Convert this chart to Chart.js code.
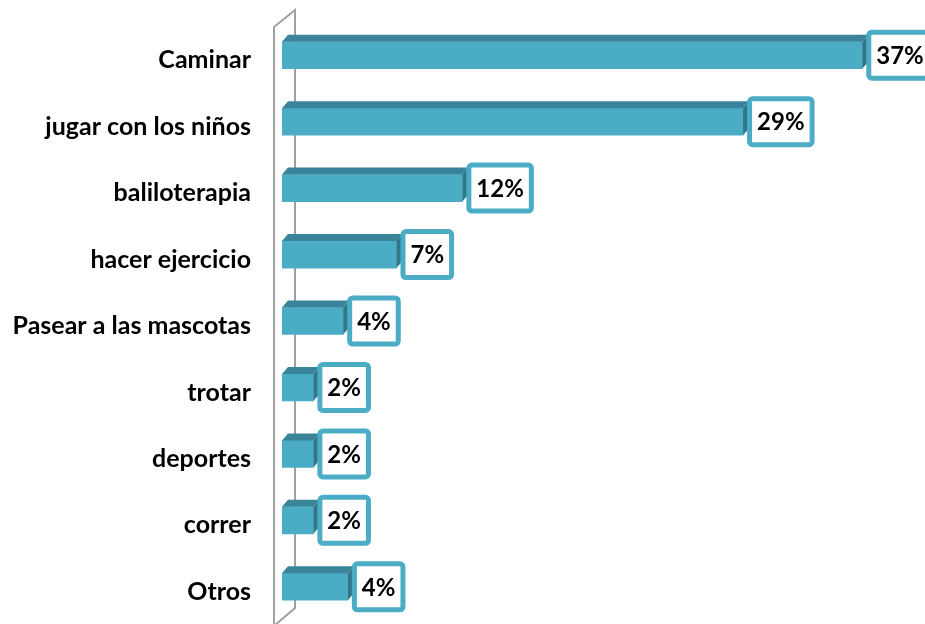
<!DOCTYPE html>
<html>
<head>
<meta charset="utf-8">
<script src="https://cdn.jsdelivr.net/npm/chart.js@4.4.1/dist/chart.umd.min.js"></script>
<style>
  html, body { margin: 0; padding: 0; background: #fff; }
  #chart { display: block; }
</style>
</head>
<body>
<canvas id="chart" width="925" height="624"></canvas>
<script>
// data
const categories = ['Caminar', 'jugar con los niños', 'baliloterapia', 'hacer ejercicio',
  'Pasear a las mascotas', 'trotar', 'deportes', 'correr', 'Otros'];
const values = [37.0, 29.4, 11.5, 7.3, 3.9, 2.0, 2.0, 2.0, 4.2];

const FONT = 'Lato';
const TEAL = '#4BACC6';
const DEPTH_X = 6, DEPTH_Y = 7;

// back wall + 3d faces + label boxes
const bar3d = {
  id: 'bar3d',
  beforeDatasetsDraw(chart) {
    const ctx = chart.ctx;
    const a = chart.chartArea;
    const fx = a.left - 8, bx = a.left + 13;
    ctx.save();
    ctx.strokeStyle = '#a0a0a0';
    ctx.lineWidth = 2;
    ctx.beginPath();
    ctx.moveTo(fx, a.bottom + 6);
    ctx.lineTo(fx, a.top + 5);
    ctx.lineTo(bx, a.top - 12);
    ctx.lineTo(bx, a.bottom - 12);
    ctx.lineTo(fx, a.bottom + 6);
    ctx.stroke();
    ctx.restore();
  },
  afterDatasetsDraw(chart) {
    const ctx = chart.ctx;
    const meta = chart.getDatasetMeta(0);
    ctx.save();
    meta.data.forEach((bar, i) => {
      const x0 = bar.base, x1 = bar.x;
      const yT = bar.y - bar.height / 2, yB = bar.y + bar.height / 2;
      // top face
      ctx.fillStyle = '#3a8499';
      ctx.beginPath();
      ctx.moveTo(x0, yT);
      ctx.lineTo(x0 + DEPTH_X, yT - DEPTH_Y);
      ctx.lineTo(x1 + DEPTH_X, yT - DEPTH_Y);
      ctx.lineTo(x1, yT);
      ctx.closePath();
      ctx.fill();
      // side face
      ctx.fillStyle = '#327689';
      ctx.beginPath();
      ctx.moveTo(x1, yT);
      ctx.lineTo(x1 + DEPTH_X, yT - DEPTH_Y);
      ctx.lineTo(x1 + DEPTH_X, yB - DEPTH_Y);
      ctx.lineTo(x1, yB);
      ctx.closePath();
      ctx.fill();

      // label box
      const txt = Math.round(values[i]) + '%';
      ctx.font = 'bold 24px ' + FONT;
      const tw = ctx.measureText(txt).width;
      const bw = tw + 20, bh = 51;
      const left = x1 + 4, top = bar.y - bh / 2;
      ctx.fillStyle = '#fff';
      ctx.strokeStyle = TEAL;
      ctx.lineWidth = 5;
      ctx.beginPath();
      ctx.roundRect(left + 2.5, top + 2.5, bw - 5, bh - 5, 3);
      ctx.fill();
      ctx.stroke();
      ctx.fillStyle = '#000';
      ctx.textAlign = 'center';
      ctx.textBaseline = 'middle';
      ctx.fillText(txt, left + bw / 2, bar.y + 1);
    });
    ctx.restore();
  }
};

new Chart(document.getElementById('chart'), {
  type: 'bar',
  data: {
    labels: categories,
    datasets: [{
      data: values,
      backgroundColor: TEAL,
      borderWidth: 0,
      barThickness: 27
    }]
  },
  options: {
    indexAxis: 'y',
    responsive: false,
    animation: false,
    layout: { padding: { top: 22, bottom: 4, left: 0, right: 0 } },
    plugins: { legend: { display: false }, tooltip: { enabled: false } },
    scales: {
      x: { display: false, min: 0, max: 41 },
      y: {
        afterFit: s => {
          s.width = 282;
          s.paddingTop = 0;
          s.paddingBottom = 0;
        },
        grid: { display: false },
        border: { display: false },
        ticks: {
          padding: 23,
          labelOffset: 5,
          color: '#000',
          font: { family: FONT, size: 25, weight: 'bold' }
        }
      }
    }
  },
  plugins: [bar3d]
});
</script>
</body>
</html>
